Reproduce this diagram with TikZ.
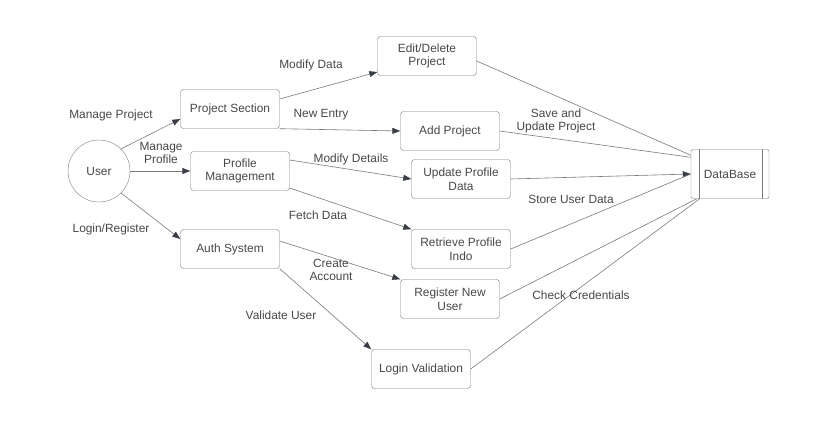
\documentclass[tikz,border=0pt]{standalone}
\usepackage{fontspec}
\setmainfont{Liberation Sans}
\usetikzlibrary{arrows.meta}
\definecolor{linegray}{HTML}{7A7A7A}
\definecolor{textgray}{HTML}{474747}
\definecolor{tipgray}{HTML}{3A3F47}
\tikzset{
  proc/.style={draw=linegray, rounded corners=3pt, minimum width=99pt, minimum height=39pt,
    align=center, text=textgray, inner sep=2pt},
  lbl/.style={align=center, text=textgray, inner sep=0pt},
  flow/.style={draw=linegray, line width=0.6pt, -{Triangle[length=8pt,width=6pt,color=tipgray]}},
  link/.style={draw=linegray, line width=0.6pt}
}
\begin{document}
\begin{tikzpicture}[x=1pt, y=-1pt, font=\fontsize{11.9}{13.8}\selectfont]
\useasboundingbox (0,0) rectangle (837,430);

\node[draw=linegray, circle, minimum size=62pt, text=textgray] (user) at (99,171) {User};

\node[proc] (proj) at (230,109) {Project Section};
\node[proc] (prof) at (240,171) {Profile\\Management};
\node[proc] (auth) at (230,249) {Auth System};

\node[proc] (edit) at (427,56) {Edit/Delete\\Project};
\node[proc] (add) at (450,131) {Add Project};
\node[proc] (upd) at (461,179) {Update Profile\\Data};
\node[proc] (retr) at (461,249) {Retrieve Profile\\Indo};
\node[proc] (reg) at (450,299) {Register New\\User};
\node[proc] (login) at (421,369) {Login Validation};

\node[proc, minimum width=78pt, minimum height=49pt, rounded corners=1.5pt] (db) at (730,174) {DataBase};
\draw[linegray] ([xshift=8pt]db.north west) -- ([xshift=8pt]db.south west);
\draw[linegray] ([xshift=-7pt]db.north east) -- ([xshift=-7pt]db.south east);

\draw[flow] (user.45) -- ([yshift=-10pt]proj.west);
\draw[flow] (user) -- (prof);
\draw[flow] (user.-45) -- ([yshift=10pt]auth.west);

\draw[flow] ([yshift=10pt]proj.east) -- ([yshift=-16pt]edit.west);
\draw[flow] (proj.south east) -- (add.west);
\draw[flow] ([yshift=11pt]prof.east) -- (upd.west);
\draw[flow] ([yshift=-17pt]prof.east) -- (retr.north west);
\draw[flow] ([yshift=8pt]auth.east) -- (reg.north west);
\draw[flow] (auth.south east) -- (login.north west);

\draw[link] ([yshift=-5pt]edit.east) -- ([yshift=-6pt]db.north west);
\draw[link] (add.east) -- ([yshift=-8pt]db.north west);
\draw[flow] (upd.east) -- (db.west);
\draw[link] (retr.east) -- (db.west);
\draw[link] (reg.east) -- ([xshift=6pt]db.south west);
\draw[link] (login.east) -- ([xshift=9pt]db.south west);

\node[lbl] (l1) at (111,115) {Manage Project};
\node[lbl] (l2) at (161,153) {Manage\\Profile};
\node[lbl] (l3) at (111,229) {Login/Register};
\node[lbl] (l4) at (311,65) {Modify Data};
\node[lbl] (l5) at (321,115) {New Entry};
\node[lbl] (l6) at (351,159) {Modify Details};
\node[lbl] (l7) at (318,215) {Fetch Data};
\node[lbl] (l8) at (331,270) {Create\\Account};
\node[lbl] (l9) at (281,315) {Validate User};
\node[lbl] (l10) at (556,121) {Save and\\Update Project};
\node[lbl] (l11) at (571,199) {Store User Data};
\node[lbl] (l12) at (581,295) {Check Credentials};
\end{tikzpicture}
\end{document}
